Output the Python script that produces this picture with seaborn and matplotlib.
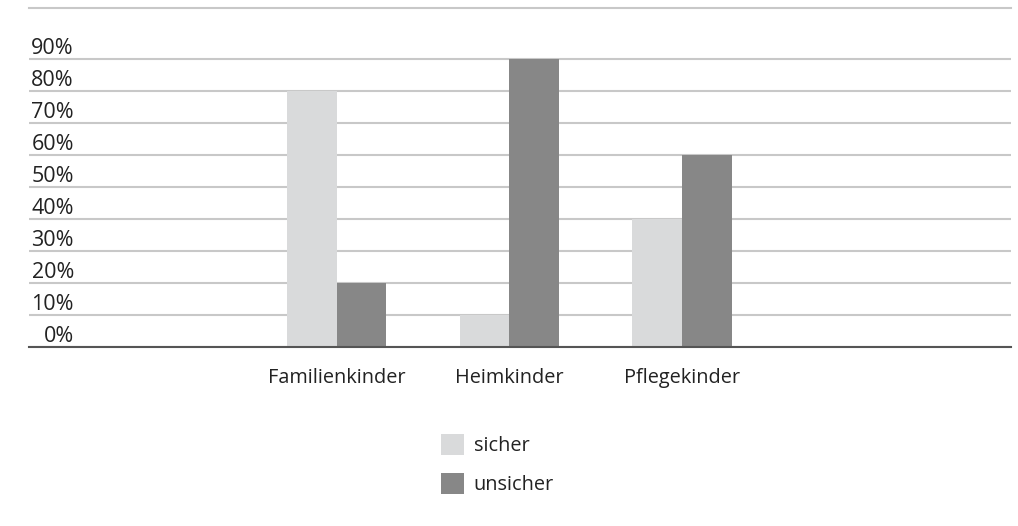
import matplotlib
matplotlib.use("Agg")
import matplotlib.pyplot as plt
import matplotlib.transforms as mtransforms
import seaborn as sns
import pandas as pd

categories = ["Familienkinder", "Heimkinder", "Pflegekinder"]
series = ["sicher", "unsicher"]
sicher = [0.80, 0.10, 0.40]
unsicher = [0.20, 0.90, 0.60]
yticks = [0.0, 0.1, 0.2, 0.3, 0.4, 0.5, 0.6, 0.7, 0.8, 0.9]
ytick_labels = ["0%", "10%", "20%", "30%", "40%", "50%", "60%", "70%", "80%", "90%"]
colors = ["#d9dadb", "#878787"]

df = pd.DataFrame({
    "Kategorie": categories * 2,
    "Bindung": [series[0]] * 3 + [series[1]] * 3,
    "Anteil": sicher + unsicher,
})

sns.set_theme(style="white")
plt.rcParams["font.family"] = ["Open Sans", "DejaVu Sans"]

fig = plt.figure(figsize=(10.18, 5.26), dpi=100)
ax = fig.add_axes([29 / 1018, 1 - 346.7 / 526, (1011 - 29) / 1018, (346.7 - 7.5) / 526])

sns.barplot(data=df, x="Kategorie", y="Anteil", hue="Bindung", palette=colors,
            width=0.575, gap=0, saturation=1, linewidth=0, ax=ax, zorder=3)

ax.set_xlim(-1.782, 3.905)
ax.set_ylim(0, 1.06)
ax.set_yticks(yticks)
ax.set_yticklabels(ytick_labels)
ax.set_xlabel("")
ax.set_ylabel("")

ax.grid(axis="y", color="#c8c8c8", linewidth=1.5, zorder=0)
ax.grid(axis="x", visible=False)
ax.set_axisbelow(True)

for side in ["left", "right"]:
    ax.spines[side].set_visible(False)
ax.spines["top"].set_color("#c8c8c8")
ax.spines["top"].set_linewidth(1.5)
ax.spines["bottom"].set_color("#555555")
ax.spines["bottom"].set_linewidth(1.5)
ax.spines["bottom"].set_zorder(4)

ax.tick_params(axis="y", length=0, pad=-32.4, labelsize=15.5, labelcolor="#222222")
ax.tick_params(axis="x", length=0, pad=15, labelsize=14.3, labelcolor="#222222")
shift = mtransforms.ScaledTranslation(0, 10 / 100, fig.dpi_scale_trans)
for lbl in ax.get_yticklabels():
    lbl.set_horizontalalignment("right")
    lbl.set_verticalalignment("center")
    lbl.set_transform(lbl.get_transform() + shift)

ax.get_legend().remove()
handles, labels = ax.get_legend_handles_labels()
fig.legend(handles, labels, loc="upper left", bbox_to_anchor=(441 / 1018, 1 - 434 / 526),
           frameon=False, fontsize=14.3, handlelength=1.14, handleheight=1.25,
           handletextpad=0.5, labelspacing=0.85, borderpad=0, borderaxespad=0,
           labelcolor="#222222")

fig.savefig("out.png", dpi=100, facecolor="white")
